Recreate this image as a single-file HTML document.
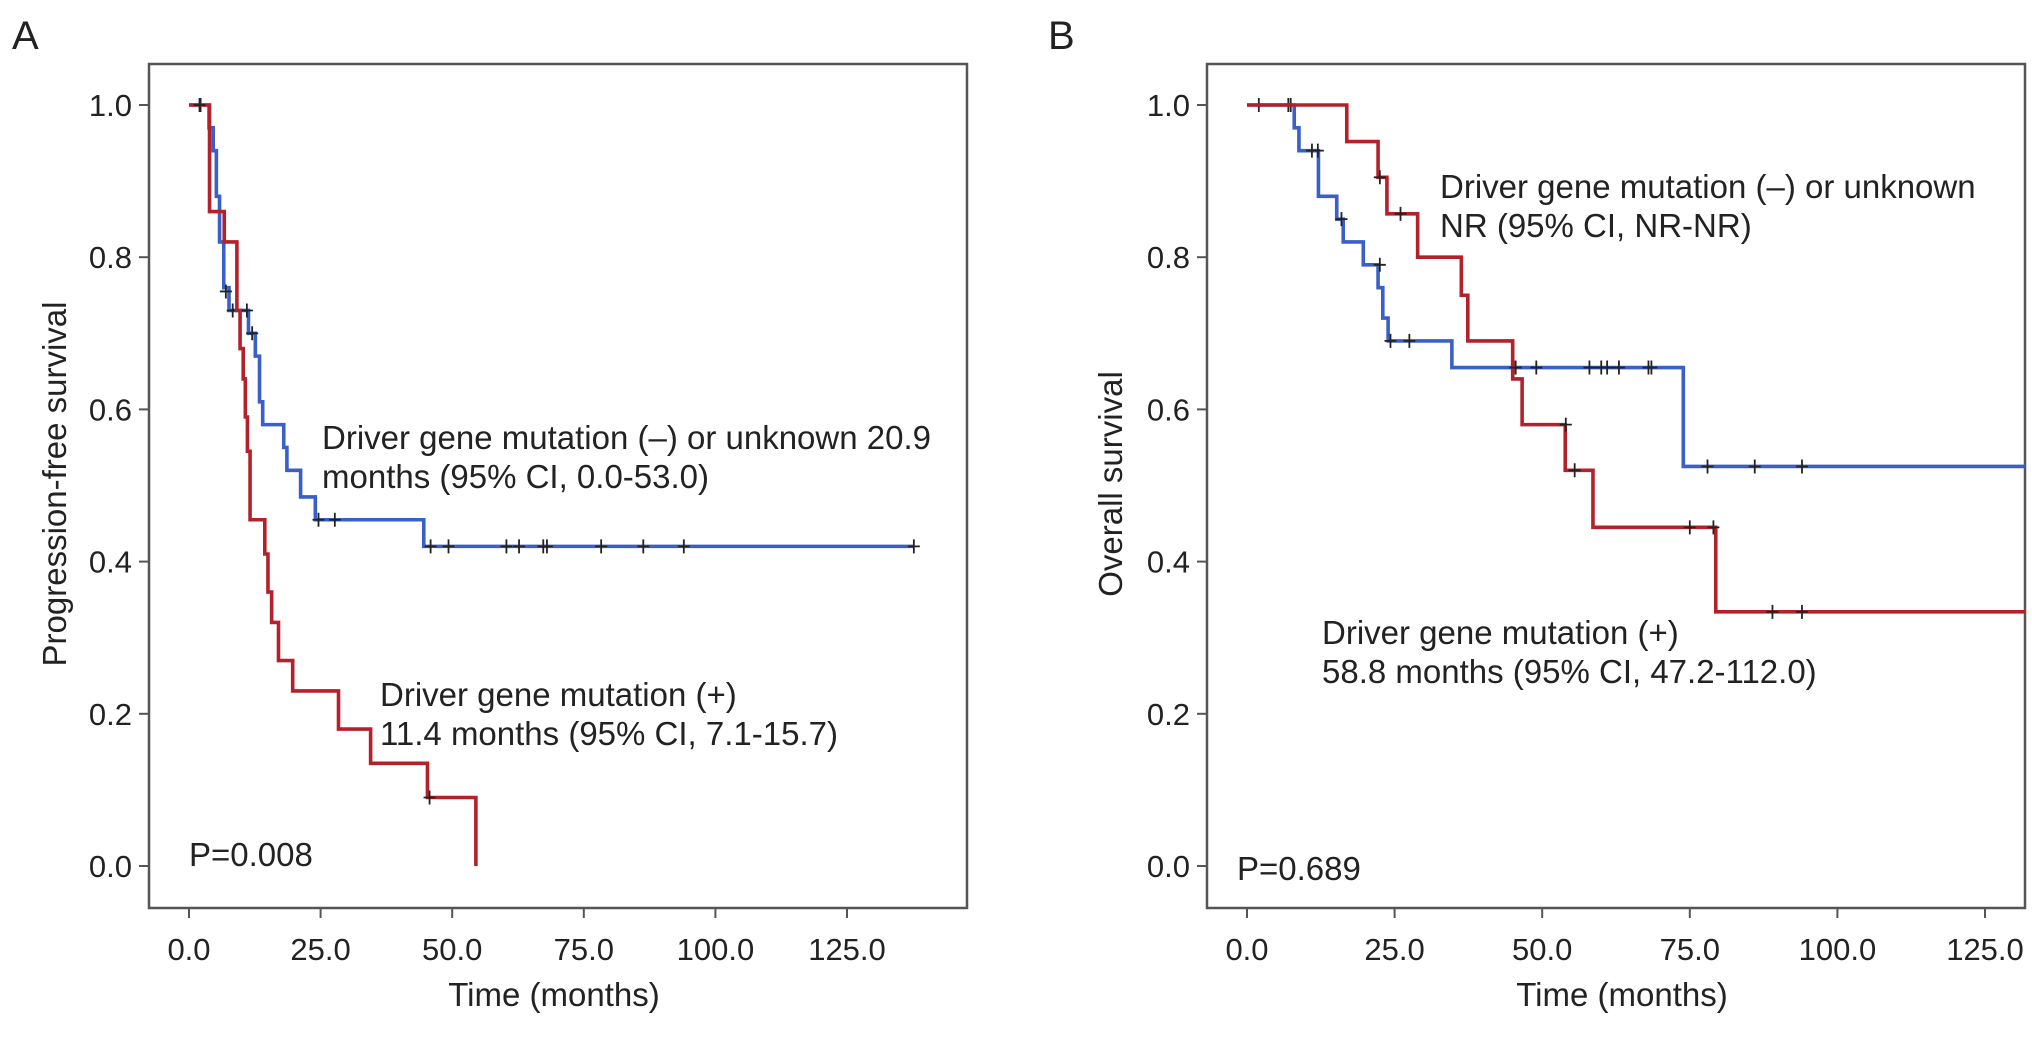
<!DOCTYPE html>
<html><head><meta charset="utf-8"><style>
body{margin:0;background:#fff}
svg{display:block;font-family:"Liberation Sans",Arial,sans-serif}
</style></head><body>
<svg id="c" width="2032" height="1050"></svg>
<script>
// Panel A data: steps [time, survival]
const aBlueSteps=[[0,1],[3.8,0.97],[4.6,0.94],[5.2,0.88],[5.8,0.82],[6.6,0.76],[7.6,0.73],[11.3,0.70],[12.6,0.67],[13.4,0.61],[14.0,0.58],[18.0,0.55],[18.6,0.52],[21.2,0.485],[24.0,0.455],[44.6,0.42],[137.7,0.42]];
const aBlueCensor=[[2.2,1],[7.0,0.755],[8.3,0.73],[11,0.73],[12,0.70],[24.6,0.455],[27.7,0.455],[45.9,0.42],[49.3,0.42],[60.3,0.42],[62.7,0.42],[67.3,0.42],[68,0.42],[78.3,0.42],[86.3,0.42],[94,0.42],[137.7,0.42]];
const aRedSteps=[[0,1],[3.9,0.86],[6.7,0.82],[9.1,0.73],[9.7,0.68],[10.3,0.64],[10.7,0.59],[11.1,0.545],[11.6,0.455],[14.4,0.41],[15.0,0.36],[15.7,0.32],[17.0,0.27],[19.7,0.23],[28.4,0.18],[34.5,0.135],[45.3,0.09],[54.5,0],[54.5,0]];
const aRedCensor=[[2.0,1],[45.7,0.09]];
// Panel B data
const bBlueSteps=[[0,1],[8,0.97],[8.8,0.94],[12.1,0.88],[15.2,0.85],[16.3,0.82],[19.7,0.79],[22.2,0.76],[23,0.72],[23.9,0.69],[34.7,0.655],[73.9,0.525],[132,0.525]];
const bBlueCensor=[[2,1],[7,1],[7.4,1],[11,0.94],[12,0.94],[16,0.85],[22.5,0.79],[24.3,0.69],[27.5,0.69],[45.5,0.655],[49,0.655],[58,0.655],[60,0.655],[61,0.655],[63,0.655],[68,0.655],[68.5,0.655],[78,0.525],[86,0.525],[94,0.525]];
const bRedSteps=[[0,1],[16.9,0.952],[22.2,0.905],[23.7,0.857],[28.9,0.80],[36.3,0.75],[37.4,0.69],[45,0.64],[46.6,0.58],[53.9,0.52],[58.6,0.445],[79.4,0.334],[132,0.334]];
const bRedCensor=[[22.5,0.905],[26,0.857],[45.5,0.655],[54,0.58],[55.5,0.52],[75,0.445],[79,0.445],[89,0.334],[94,0.334]];
const xTicks=[0,25,50,75,100,125];
const xTickLabels=["0.0","25.0","50.0","75.0","100.0","125.0"];
const yTicks=[0,0.2,0.4,0.6,0.8,1.0];
const yTickLabels=["0.0","0.2","0.4","0.6","0.8","1.0"];

const NS="http://www.w3.org/2000/svg";
const svg=document.getElementById('c');
function mk(tag,attrs,parent){const e=document.createElementNS(NS,tag);for(const k in attrs)e.setAttribute(k,attrs[k]);(parent||svg).appendChild(e);return e;}
function txt(s,x,y,size,anchor,parent){const t=mk('text',{x:x,y:y,'font-size':size,'text-anchor':anchor||'start',fill:'#222'},parent);t.textContent=s;return t;}

function panel(cfg){
  const g=mk('g',{});
  
  
  const X=v=>cfg.x0+(v)*(cfg.x125-cfg.x0)/125;
  const Y=v=>cfg.y0+(v)*(cfg.y1-cfg.y0);
  const fr=mk('rect',{x:cfg.fl,y:64,width:cfg.fr-cfg.fl,height:844,fill:'none',stroke:'#555','stroke-width':2.5},g);
  
  
  const clip=mk('clipPath',{id:cfg.name+'-clip'},g);
  mk('rect',{x:cfg.fl,y:64,width:cfg.fr-cfg.fl,height:844},clip);
  xTicks.forEach((v,i)=>{
    const l=mk('line',{x1:X(v),x2:X(v),y1:908,y2:918,stroke:'#555','stroke-width':2},g);
    
    
    const t=txt(xTickLabels[i],X(v),960,31,'middle',g);
    
    
  });
  yTicks.forEach((v,i)=>{
    const l=mk('line',{x1:cfg.fl-10,x2:cfg.fl,y1:Y(v),y2:Y(v),stroke:'#555','stroke-width':2},g);
    
    
    const t=txt(yTickLabels[i],cfg.fl-17,Y(v)+11,31,'end',g);
    
    
  });
  const series=[[cfg.blue,cfg.blueC,'#3a5fc8','blue'],[cfg.red,cfg.redC,'#b3212b','red']];
  series.forEach(([st,ce,col,nm])=>{
    let d='M'+X(st[0][0])+','+Y(st[0][1]);
    for(let i=1;i<st.length;i++){d+=' H'+X(st[i][0])+' V'+Y(st[i][1]);}
    const p=mk('path',{d:d,fill:'none',stroke:col,'stroke-width':3.6,'clip-path':'url(#'+cfg.name+'-clip)'},g);
    
    
    ce.forEach(c=>{
      const m=mk('path',{d:'M'+(X(c[0])-6)+','+Y(c[1])+' h12 M'+X(c[0])+','+(Y(c[1])-7)+' v14',stroke:'#222','stroke-width':1.8},g);
      
      
    });
  });
  cfg.texts.forEach(t=>{const e=txt(t[0],t[1],t[2],33,'start',g);});
  const xt=txt('Time (months)',cfg.xtx,1006,33,'middle',g);
  
  
  const yt=txt(cfg.ytitle,0,0,33,'middle',g);
  yt.setAttribute('transform','translate('+(cfg.ytx)+',484) rotate(-90)');
  
  
  const lb=txt(cfg.label,cfg.lx,49,40,'start',g);
  
  
}
panel({name:'panel-a',fl:149,fr:967,x0:189,x125:847,y0:866,y1:105,blue:aBlueSteps,blueC:aBlueCensor,red:aRedSteps,redC:aRedCensor,
  xtx:554,ytx:66,ytitle:'Progression-free survival',label:'A',lx:12,
  texts:[['Driver gene mutation (–) or unknown 20.9',322,449,'blue-annotation'],['months (95% CI, 0.0-53.0)',322,488,'blue-annotation-line2'],
  ['Driver gene mutation (+)',380,706,'red-annotation'],['11.4 months (95% CI, 7.1-15.7)',380,745,'red-annotation-line2'],['P=0.008',189,866,'p-value']]});
panel({name:'panel-b',fl:1207,fr:2025,x0:1247,x125:1985,y0:866,y1:105,blue:bBlueSteps,blueC:bBlueCensor,red:bRedSteps,redC:bRedCensor,
  xtx:1622,ytx:1122,ytitle:'Overall survival',label:'B',lx:1048,
  texts:[['Driver gene mutation (–) or unknown',1440,198,'blue-annotation'],['NR (95% CI, NR-NR)',1440,237,'blue-annotation-line2'],
  ['Driver gene mutation (+)',1322,644,'red-annotation'],['58.8 months (95% CI, 47.2-112.0)',1322,683,'red-annotation-line2'],['P=0.689',1237,880,'p-value']]});
</script>
</body></html>
